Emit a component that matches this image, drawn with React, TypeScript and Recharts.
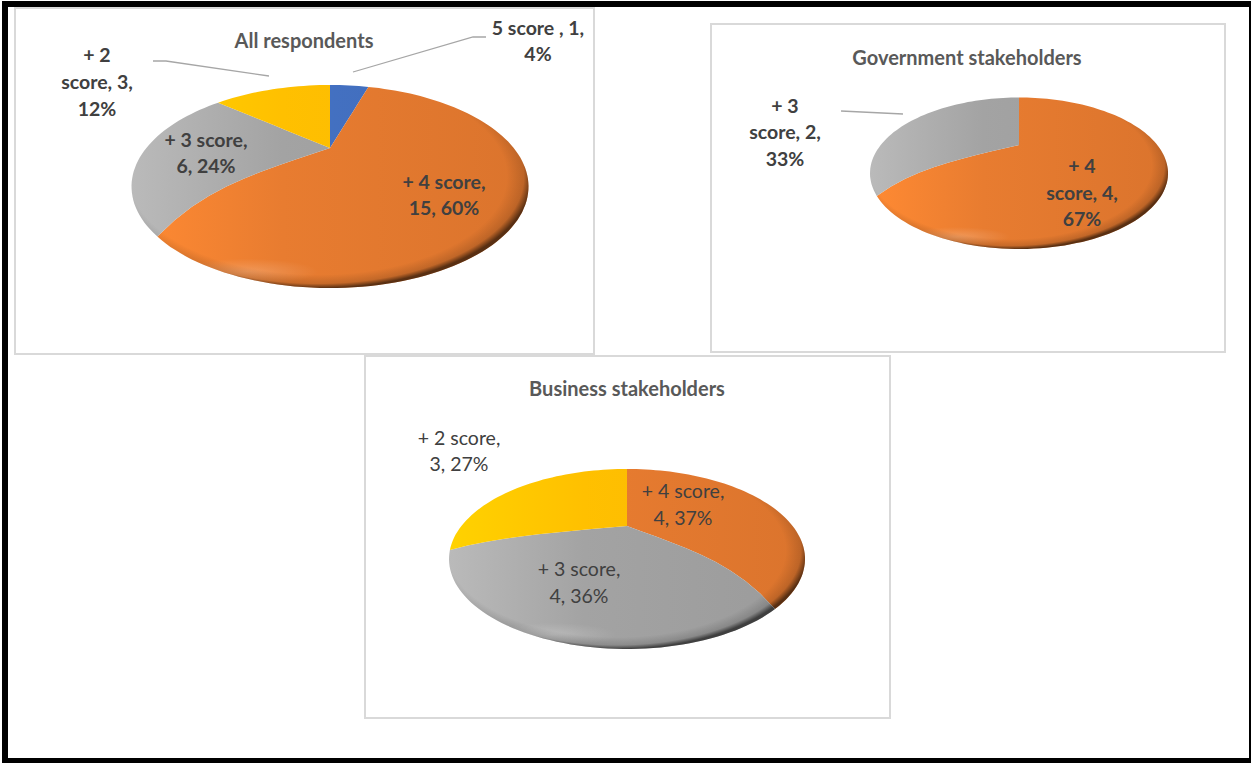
import { PieChart, Pie, Cell } from 'recharts'

// Every pie runs clockwise from twelve o'clock
const allNames = ['5 score ', '+ 4 score', '+ 3 score', '+ 2 score']
const allCounts = [1, 15, 6, 3]
const allPercents = [4, 60, 24, 12]

const govNames = ['+ 4 score', '+ 3 score']
const govCounts = [4, 2]
const govPercents = [67, 33]

const bizNames = ['+ 4 score', '+ 3 score', '+ 2 score']
const bizCounts = [4, 4, 3]
const bizPercents = [37, 36, 27]

const BASE: Record<string, string[]> = {
  '5 score ': ['#4C7ED6', '#4472C4', '#3F69B5'],
  '+ 4 score': ['#FF8A33', '#E87C30', '#DB742D'],
  '+ 3 score': ['#BABABA', '#A3A3A3', '#9B9B9B'],
  '+ 2 score': ['#FFD200', '#FFC000', '#F8B705'],
}

const toRows = (names: string[], counts: number[], percents: number[]) =>
  names.map((name, i) => ({ name, count: counts[i], percent: percents[i] }))

interface Note {
  lines: string[]
  x: number
  y: number[]
  bold: boolean
  leader?: string
}

interface PanelProps {
  id: string
  title: string
  titleX: number
  titleY: number
  box: { left: number; top: number; width: number; height: number }
  rows: { name: string; count: number; percent: number }[]
  centre: { x: number; y: number }
  rx: number
  above: number
  below: number
  notes: Note[]
}

const rad = (d: number) => (d * Math.PI) / 180

function Panel({ id, title, titleX, titleY, box, rows, centre, rx, above, below, notes }: PanelProps) {
  const cx = centre.x - box.left
  const cy = centre.y - box.top
  const ry = (above + below) / 2
  const midY = cy + (below - above) / 2

  // Tilted, domed disc: clock angle and radius fraction to a point in the panel
  const project = (clock: number, r: number) => {
    const phi = rad(clock - 13 * Math.sin(rad(clock)))
    const rimX = rx * Math.sin(phi)
    const rimY = midY - ry * Math.cos(phi) - cy
    const sag = rimY > 0 ? 0.65 * r + 0.35 * Math.pow(r, 4) : r
    return [cx + rimX * r, cy + rimY * sag]
  }

  const slicePath = (from: number, to: number) => {
    const pts: number[][] = [[cx, cy]]
    for (let r = 0.1; r < 1; r += 0.1) pts.push(project(from, r))
    const steps = Math.max(4, Math.ceil((to - from) / 2))
    for (let s = 0; s <= steps; s++) pts.push(project(from + ((to - from) * s) / steps, 1))
    for (let r = 0.9; r > 0; r -= 0.1) pts.push(project(to, r))
    return 'M' + pts.map(p => `${p[0].toFixed(1)},${p[1].toFixed(1)}`).join('L') + 'Z'
  }

  const renderSlice = (props: any) => {
    const d = slicePath(90 - props.startAngle, 90 - props.endAngle)
    return (
      <g>
        <path d={d} fill={props.fill} />
        <path d={d} fill={`url(#${id}-glow)`} />
        <path d={d} fill={`url(#${id}-rim)`} />
      </g>
    )
  }

  const renderNote = ({ index }: any) => {
    const note = notes[index]
    return (
      <g>
        {note.leader && (
          <polyline
            points={note.leader}
            transform={`translate(${-box.left} ${-box.top})`}
            fill="none"
            stroke="#A6A6A6"
            strokeWidth={1.3}
          />
        )}
        {note.lines.map((line, i) => (
          <text
            key={line}
            x={note.x - box.left}
            y={note.y[i] - box.top}
            textAnchor="middle"
            dominantBaseline="central"
            fontFamily="Lato, sans-serif"
            fontSize={19.5}
            fontWeight={note.bold ? 700 : 400}
            fill="#404040"
          >
            {line}
          </text>
        ))}
      </g>
    )
  }

  return (
    <div
      style={{
        position: 'absolute',
        left: box.left,
        top: box.top,
        width: box.width,
        height: box.height,
        boxSizing: 'border-box',
        border: '2px solid #D9D9D9',
        background: '#fff',
      }}
    >
      <PieChart
        width={box.width}
        height={box.height}
        margin={{ top: 0, right: 0, bottom: 0, left: 0 }}
        style={{ position: 'absolute', left: -2, top: -2 }}
      >
        <defs>
          {Object.keys(BASE).map((name, i) => (
            <linearGradient
              key={name}
              id={`${id}-base-${i}`}
              gradientUnits="userSpaceOnUse"
              x1={cx - rx}
              x2={cx + rx}
              y1={0}
              y2={0}
            >
              <stop offset="0%" stopColor={BASE[name][0]} />
              <stop offset="38%" stopColor={BASE[name][1]} />
              <stop offset="100%" stopColor={BASE[name][2]} />
            </linearGradient>
          ))}
          {/* dark bevel along the lower right rim */}
          <radialGradient
            id={`${id}-rim`}
            gradientUnits="userSpaceOnUse"
            cx={0}
            cy={0}
            r={1}
            gradientTransform={`translate(${cx - rx * 0.06} ${midY - ry * 0.1}) scale(${rx * 1.08} ${ry * 1.1})`}
          >
            <stop offset="88%" stopColor="#000" stopOpacity={0} />
            <stop offset="96%" stopColor="#000" stopOpacity={0.14} />
            <stop offset="100%" stopColor="#000" stopOpacity={0.6} />
          </radialGradient>
          {/* soft light patch above the lower left rim */}
          <radialGradient
            id={`${id}-glow`}
            gradientUnits="userSpaceOnUse"
            cx={0}
            cy={0}
            r={1}
            gradientTransform={`translate(${cx - rx * 0.42} ${midY + ry * 0.84}) scale(${rx * 0.36} ${ry * 0.13})`}
          >
            <stop offset="0%" stopColor="#fff" stopOpacity={0.2} />
            <stop offset="100%" stopColor="#fff" stopOpacity={0} />
          </radialGradient>
        </defs>
        <text
          x={titleX - box.left}
          y={titleY - box.top}
          textAnchor="middle"
          dominantBaseline="central"
          fontFamily="Lato, sans-serif"
          fontSize={20}
          fontWeight={700}
          fill="#595959"
        >
          {title}
        </text>
        <Pie
          data={rows}
          dataKey="percent"
          nameKey="name"
          cx={cx}
          cy={cy}
          outerRadius={rx}
          startAngle={90}
          endAngle={-270}
          stroke="none"
          isAnimationActive={false}
          shape={renderSlice}
          label={renderNote}
          labelLine={false}
        >
          {rows.map(row => (
            <Cell key={row.name} fill={`url(#${id}-base-${Object.keys(BASE).indexOf(row.name)})`} />
          ))}
        </Pie>
      </PieChart>
    </div>
  )
}

const allRows = toRows(allNames, allCounts, allPercents)
const govRows = toRows(govNames, govCounts, govPercents)
const bizRows = toRows(bizNames, bizCounts, bizPercents)

export default function App() {
  return (
    <div style={{ position: 'absolute', left: 0, top: 0, width: 1251, height: 763, background: '#fff', overflow: 'hidden' }}>
      <Panel
        id="all"
        title="All respondents"
        titleX={304}
        titleY={40}
        box={{ left: 14, top: 7, width: 581, height: 348 }}
        rows={allRows}
        centre={{ x: 330, y: 148 }}
        rx={198.5}
        above={63}
        below={140}
        notes={[
          { lines: [`${allNames[0]}, ${allCounts[0]},`, `${allPercents[0]}%`], x: 538, y: [27, 53], bold: true, leader: '353,72 473,37 486,37' },
          { lines: ['+ 4 score,', `${allCounts[1]}, ${allPercents[1]}%`], x: 444, y: [181, 207], bold: true },
          { lines: ['+ 3 score,', `${allCounts[2]}, ${allPercents[2]}%`], x: 206, y: [139, 165], bold: true },
          { lines: ['+ 2', `score, ${allCounts[3]},`, `${allPercents[3]}%`], x: 97, y: [54, 81, 108], bold: true, leader: '153,61 166,61 269,76' },
        ]}
      />
      <Panel
        id="gov"
        title="Government stakeholders"
        titleX={967}
        titleY={57}
        box={{ left: 710, top: 23, width: 516, height: 330 }}
        rows={govRows}
        centre={{ x: 1019, y: 145 }}
        rx={149}
        above={47.5}
        below={104}
        notes={[
          { lines: ['+ 4', `score, ${govCounts[0]},`, `${govPercents[0]}%`], x: 1082, y: [165, 192, 218], bold: true },
          { lines: ['+ 3', `score, ${govCounts[1]},`, `${govPercents[1]}%`], x: 785, y: [105, 131, 158], bold: true, leader: '841,111 903,114' },
        ]}
      />
      <Panel
        id="biz"
        title="Business stakeholders"
        titleX={627}
        titleY={388}
        box={{ left: 364, top: 355, width: 527, height: 364 }}
        rows={bizRows}
        centre={{ x: 627, y: 526 }}
        rx={178}
        above={57}
        below={123}
        notes={[
          { lines: ['+ 4 score,', `${bizCounts[0]}, ${bizPercents[0]}%`], x: 683, y: [490, 517], bold: false },
          { lines: ['+ 3 score,', `${bizCounts[1]}, ${bizPercents[1]}%`], x: 579, y: [568, 595], bold: false },
          { lines: ['+ 2 score,', `${bizCounts[2]}, ${bizPercents[2]}%`], x: 459, y: [437, 463], bold: false },
        ]}
      />
      {/* black frame round the whole sheet, thin on the right */}
      <div
        style={{
          position: 'absolute',
          left: 2,
          top: 1,
          width: 1249,
          height: 762,
          boxSizing: 'border-box',
          borderStyle: 'solid',
          borderColor: '#000',
          borderWidth: '6px 2px 5px 6px',
          pointerEvents: 'none',
        }}
      />
    </div>
  )
}
